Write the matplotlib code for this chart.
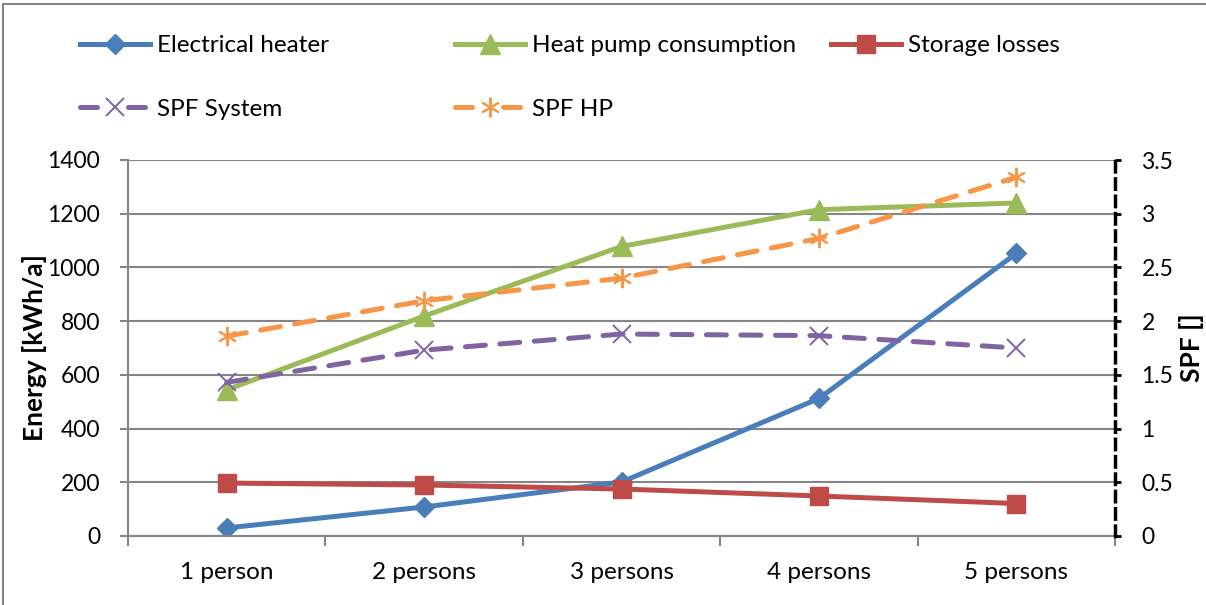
import matplotlib.pyplot as plt
import numpy as np
from matplotlib.lines import Line2D
from matplotlib.patches import Rectangle

plt.rcParams['font.family'] = ['Lato', 'DejaVu Sans']

# Daten
categories = ['1 person', '2 persons', '3 persons', '4 persons', '5 persons']
electrical_heater = [30, 108, 201, 512, 1052]
heat_pump = [544, 819, 1078, 1215, 1240]
storage_losses = [197, 190, 175, 149, 121]
spf_system = [1.43, 1.73, 1.88, 1.865, 1.75]
spf_hp = [1.86, 2.19, 2.40, 2.77, 3.34]

blue = '#4A7EBB'
green = '#9BBB59'
red = '#BE4B48'
purple = '#8064A2'
orange = '#F79646'
grid_c = '#868686'

fs_text = 17.5
fs_num = 16.5

W, H = 1206, 605
fig = plt.figure(figsize=(W / 100, H / 100), dpi=100)
ax = fig.add_axes([128 / W, 1 - 536 / H, (1115 - 128) / W, (536 - 160) / H])
ax2 = ax.twinx()

x = np.arange(len(categories))

l1, = ax.plot(x, electrical_heater, color=blue, lw=3.6, marker='D', ms=10,
              solid_joinstyle='round', label='Electrical heater')
l2, = ax.plot(x, heat_pump, color=green, lw=3.6, marker='^', ms=14,
              solid_joinstyle='round', label='Heat pump consumption')
l3, = ax.plot(x, storage_losses, color=red, lw=3.6, marker='s', ms=13,
              solid_joinstyle='round', label='Storage losses')
l4, = ax2.plot(x, spf_system, color=purple, lw=3.6, ls=(0, (4.0, 2.9)),
               dash_capstyle='round', marker='x', ms=13, mew=1.4,
               label='SPF System')
l5, = ax2.plot(x, spf_hp, color=orange, lw=3.6, ls=(0, (4.0, 2.9)),
               dash_capstyle='round', marker=(6, 2, 0), ms=14, mew=1.4,
               label='SPF HP')

# Legenden-Symbole fuer gestrichelte Linien: Strich - Marker - Strich
h4 = Line2D([], [], color=purple, lw=3.6, ls=(0, (3.4, 6.2)),
            dash_capstyle='round', marker='x', ms=13, mew=1.4)
h5 = Line2D([], [], color=orange, lw=3.6, ls=(0, (3.4, 6.2)),
            dash_capstyle='round', marker=(6, 2, 0), ms=14, mew=1.4)

# Achsen
ax.set_xlim(-0.5, len(categories) - 0.5)
ax.set_ylim(0, 1400)
ax.set_yticks(np.arange(0, 1401, 200))
ax.set_xticks(x)
ax.set_xticklabels(categories, fontsize=fs_text)
ax.set_xticks(np.arange(-0.5, len(categories), 1), minor=True)
ax.tick_params(axis='x', which='major', length=0, pad=19)
ax.tick_params(axis='x', which='minor', length=7, width=1.5, color=grid_c)
ax.tick_params(axis='y', labelsize=fs_num, length=6, width=1.5, color=grid_c, pad=14)
ax.grid(axis='y', color=grid_c, lw=1.5)
ax.set_axisbelow(True)
for s in ['top', 'right']:
    ax.spines[s].set_visible(False)
for s in ['left', 'bottom']:
    ax.spines[s].set_color(grid_c)
    ax.spines[s].set_linewidth(1.5)
ax.set_ylabel('Energy [kWh/a]', fontsize=19, fontweight='bold', labelpad=0)

ax2.set_ylim(0, 3.5)
ax2.set_yticks(np.arange(0, 3.51, 0.5))
ax2.set_yticklabels(['0', '0.5', '1', '1.5', '2', '2.5', '3', '3.5'])
ax2.tick_params(axis='y', labelsize=fs_num, length=4, width=2, color='black', pad=15)
for s in ['top', 'left', 'bottom']:
    ax2.spines[s].set_visible(False)
ax2.spines['right'].set_linestyle((0, (3, 2)))
ax2.spines['right'].set_linewidth(2.5)
ax2.spines['right'].set_color('black')
ax2.set_ylabel('SPF []', fontsize=19, fontweight='bold', labelpad=4)

# Legende
kw = dict(loc='upper left', frameon=False, fontsize=fs_text, borderpad=0,
          borderaxespad=0, handlelength=2.9, handletextpad=0.25,
          labelspacing=1.75)
top = 1 - 35 / H
fig.legend([l1, h4], ['Electrical heater', 'SPF System'],
           bbox_to_anchor=(80 / W, top), **kw)
fig.legend([l2, h5], ['Heat pump consumption', 'SPF HP'],
           bbox_to_anchor=(455 / W, top), **kw)
fig.legend([l3], ['Storage losses'],
           bbox_to_anchor=(831 / W, top), **kw)

# Rahmen
fig.patches.append(Rectangle((3 / W, -0.05), 1.1, 1 - 4 / H + 0.05,
                             transform=fig.transFigure, fill=False,
                             edgecolor=grid_c, lw=1.5))

fig.savefig('out.png', dpi=100)
